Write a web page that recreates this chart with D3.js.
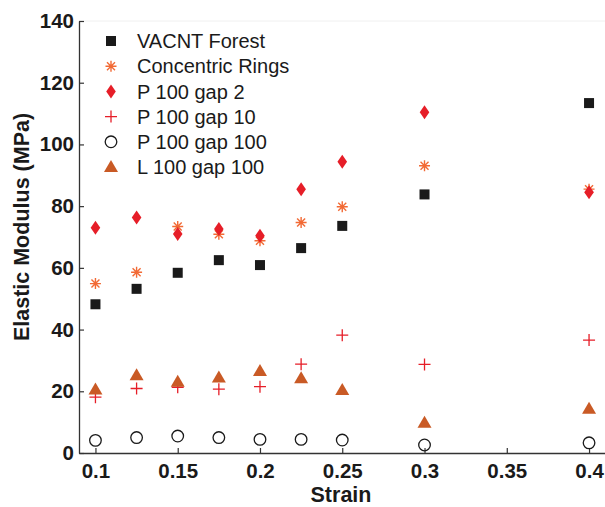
<!DOCTYPE html>
<html><head><meta charset="utf-8">
<script src="https://cdn.jsdelivr.net/npm/d3@7"></script>
<style>body{margin:0;background:#fff}svg{display:block}</style>
</head><body>
<svg id="c" width="605" height="507"></svg>
<script>
const strain = [0.1, 0.125, 0.15, 0.175, 0.2, 0.225, 0.25, 0.3, 0.4];
const vacnt = [48.2, 53.2, 58.4, 62.5, 60.9, 66.4, 73.6, 83.8, 113.4];
const rings = [54.9, 58.6, 73.4, 70.9, 68.8, 74.7, 79.8, 93.1, 85.5];
const gap2 = [73.0, 76.3, 71.0, 72.6, 70.4, 85.5, 94.4, 110.4, 84.5];
const gap10 = [18.1, 20.9, 21.3, 20.7, 21.5, 28.8, 38.2, 28.7, 36.6];
const gap100 = [4.1, 5.0, 5.5, 5.0, 4.4, 4.4, 4.2, 2.6, 3.3];
const l100 = [20.6, 25.2, 23.1, 24.5, 26.6, 24.2, 20.4, 9.8, 14.3];
const xTicks = [0.1, 0.15, 0.2, 0.25, 0.3, 0.35, 0.4];
const yTicks = [0, 20, 40, 60, 80, 100, 120, 140];
const seriesNames = ["VACNT Forest", "Concentric Rings", "P 100 gap 2", "P 100 gap 10", "P 100 gap 100", "L 100 gap 100"];

const series = [
  {name: seriesNames[0], vals: vacnt, type: "square", color: "#1a1a1a"},
  {name: seriesNames[1], vals: rings, type: "asterisk", color: "#f26a35"},
  {name: seriesNames[2], vals: gap2, type: "diamond", color: "#e61e28"},
  {name: seriesNames[3], vals: gap10, type: "plus", color: "#e61e28"},
  {name: seriesNames[4], vals: gap100, type: "circle", color: "#1a1a1a"},
  {name: seriesNames[5], vals: l100, type: "triangle", color: "#c95a25"}
];

const svg = d3.select("#c");
const x = d3.scaleLinear().domain([0.09, 0.41]).range([79, 605.5]);
const y = d3.scaleLinear().domain([0, 140]).range([453, 21]);

svg.append("line").attr("x1", 79).attr("x2", 605).attr("y1", 21).attr("y2", 21)
  .attr("stroke", "#f0f0f0").attr("stroke-width", 1);

const font = "'Liberation Sans', Arial, sans-serif";

const xAxis = svg.append("g").attr("transform", "translate(0,453)")
  .call(d3.axisBottom(x).tickValues(xTicks).tickFormat(d => String(d)).tickSizeInner(-5).tickSizeOuter(0));
const yAxis = svg.append("g").attr("transform", "translate(79,0)")
  .call(d3.axisLeft(y).tickValues(yTicks).tickSizeInner(-5).tickSizeOuter(0));

[xAxis, yAxis].forEach(g => {
  g.select(".domain").attr("stroke", "#333").attr("stroke-width", 1.3);
  g.selectAll(".tick line").attr("stroke", "#333").attr("stroke-width", 1.2);
  g.selectAll(".tick text").attr("font-family", font).attr("font-weight", "bold")
    .attr("font-size", 20.5).attr("fill", "#1a1a1a");
});
xAxis.selectAll(".tick text").attr("dy", "0.95em").attr("y", 6);
yAxis.selectAll(".tick text").attr("x", -5);

svg.append("text").attr("x", 341).attr("y", 502).attr("text-anchor", "middle")
  .attr("font-family", font).attr("font-weight", "bold").attr("font-size", 21.5)
  .attr("fill", "#1a1a1a").text("Strain");
svg.append("text").attr("transform", "translate(29,227) rotate(-90)").attr("text-anchor", "middle")
  .attr("font-family", font).attr("font-weight", "bold").attr("font-size", 21.5)
  .attr("fill", "#1a1a1a").text("Elastic Modulus (MPa)");

function drawMarker(g, type, color) {
  if (type === "square") {
    g.append("rect").attr("x", -5).attr("y", -5).attr("width", 10).attr("height", 10).attr("fill", color);
  } else if (type === "diamond") {
    g.append("path").attr("d", "M0,-7L4.8,0L0,7L-4.8,0Z").attr("fill", color);
  } else if (type === "triangle") {
    g.append("path").attr("d", "M0,-7L7,5L-7,5Z").attr("fill", color);
  } else if (type === "circle") {
    g.append("circle").attr("r", 5.8).attr("fill", "none").attr("stroke", color).attr("stroke-width", 1.3);
  } else if (type === "plus") {
    g.append("path").attr("d", "M-6,0H6M0,-6V6").attr("stroke", color).attr("stroke-width", 1.3);
  } else if (type === "asterisk") {
    g.append("path").attr("d", "M-5.5,0H5.5M0,-5.5V5.5M-4,-4L4,4M-4,4L4,-4")
      .attr("stroke", color).attr("stroke-width", 1.4);
  }
}

series.forEach(s => {
  const g = svg.append("g");
  s.vals.forEach((v, i) => {
    const m = g.append("g").attr("transform", `translate(${x(strain[i])},${y(v)})`);
    drawMarker(m, s.type, s.color);
  });
});

const leg = svg.append("g");
series.forEach((s, i) => {
  const yy = 41 + i * 25.2;
  const m = leg.append("g").attr("transform", `translate(111,${yy})`);
  drawMarker(m, s.type, s.color);
  leg.append("text").attr("x", 137).attr("y", yy).attr("dy", "0.36em")
    .attr("font-family", font).attr("font-size", 20).attr("fill", "#1a1a1a").text(s.name);
});
</script>
</body></html>
